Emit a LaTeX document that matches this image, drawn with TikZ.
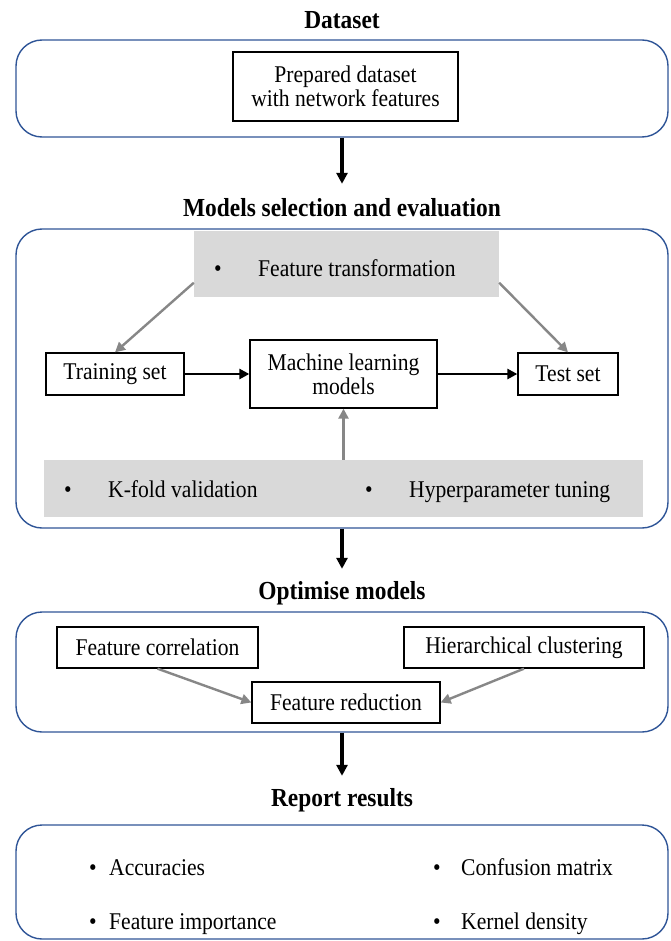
\documentclass[tikz,border=0pt]{standalone}
\usepackage{fontspec}
\setmainfont[FakeStretch=0.9]{Liberation Serif}
\usetikzlibrary{positioning,calc,arrows.meta}
\definecolor{frameblue}{RGB}{47,85,151}
\definecolor{panelgray}{RGB}{217,217,217}
\definecolor{linkgray}{RGB}{135,135,135}
\newcommand{\bul}[2]{\makebox[#1][l]{\textbullet}#2}

\begin{document}
\begin{tikzpicture}[x=1pt,y=-1pt,
  font=\fontsize{24}{24}\selectfont,
  stage/.style={draw=frameblue,line width=1.4pt,rounded corners=26pt,minimum width=652pt,inner sep=0pt},
  heading/.style={font=\fontsize{26}{24}\selectfont\bfseries,minimum height=48pt},
  box/.style={draw,line width=1.3pt,inner sep=0pt,align=center},
  panel/.style={fill=panelgray,inner sep=0pt},
  item/.style={anchor=base west,inner sep=0pt},
  flow/.style={-{Triangle[length=11pt,width=11pt]},line width=3.5pt},
  link/.style={-{Triangle[length=10pt,width=10pt]},line width=2.6pt},
  feed/.style={-{Triangle[length=10pt,width=10pt]},line width=2.4pt,linkgray}]
    \useasboundingbox (0,0) rectangle (670,941);
    % dataset
    \node[heading] (datatitle) at (342,20) {Dataset};
    \node[stage,minimum height=97pt] (data) at (342,88.5) {};
    \node[box,minimum width=225pt,minimum height=69pt] (prep) at (345.5,86.5) {Prepared dataset\\with network features};
    %
    % models selection
    \node[heading] (modeltitle) at (342,208) {Models selection and evaluation};
    \node[stage,minimum height=299pt] (model) at (342,378.5) {};
    \node[panel,minimum width=305pt,minimum height=66pt] (ftrans) at (346.5,264) {};
    \node[item] (ftransitem) at (214,276) {\bul{44pt}{Feature transformation}};
    \node[box,minimum width=138pt,minimum height=42pt] (train) at (115,374) {Training set};
    \node[box,minimum width=187pt,minimum height=68pt] (ml) at (343.5,374) {Machine learning\\models};
    \node[box,minimum width=100pt,minimum height=42pt] (test) at (568,374) {Test set};
    \node[panel,minimum width=599pt,minimum height=57pt] (tuning) at (343.5,488.5) {};
    \node[item] (kfold) at (64,497) {\bul{44pt}{K-fold validation}};
    \node[item] (hyper) at (365,497) {\bul{44pt}{Hyperparameter tuning}};
    %
    % optimise
    \node[heading] (opttitle) at (342,593) {Optimise models};
    \node[stage,minimum height=120pt] (opt) at (342,672) {};
    \node[box,minimum width=201pt,minimum height=41pt] (fcorr) at (157.5,647.5) {Feature correlation};
    \node[box,minimum width=240pt,minimum height=41pt] (hclust) at (524,647.5) {Hierarchical clustering};
    \node[box,minimum width=188pt,minimum height=41pt] (fred) at (346,702.5) {Feature reduction};
    %
    % report
    \node[heading] (reporttitle) at (342,800) {Report results};
    \node[stage,minimum height=114pt] (report) at (342,882) {};
    \node[item] (acc) at (89,875) {\bul{20pt}{Accuracies}};
    \node[item] (imp) at (89,929) {\bul{20pt}{Feature importance}};
    \node[item] (conf) at (433,875) {\bul{28pt}{Confusion matrix}};
    \node[item] (kde) at (433,929) {\bul{28pt}{Kernel density}};
    %
    \draw[flow] (data.south) -- (modeltitle.north);
    \draw[feed] (ftrans.187) -- (train.north);
    \draw[feed] (ftrans.-7) -- (test.north);
    \draw[link] (train) -- (ml);
    \draw[link] (ml) -- (test);
    \draw[feed] (tuning.north) -- (ml.south);
    \draw[flow] (model.south) -- (opttitle.north);
    \draw[feed] (fcorr.south) -- (fred.west);
    \draw[feed] (hclust.south) -- (fred.east);
    \draw[flow] (opt.south) -- (reporttitle.north);
\end{tikzpicture}
\end{document}
